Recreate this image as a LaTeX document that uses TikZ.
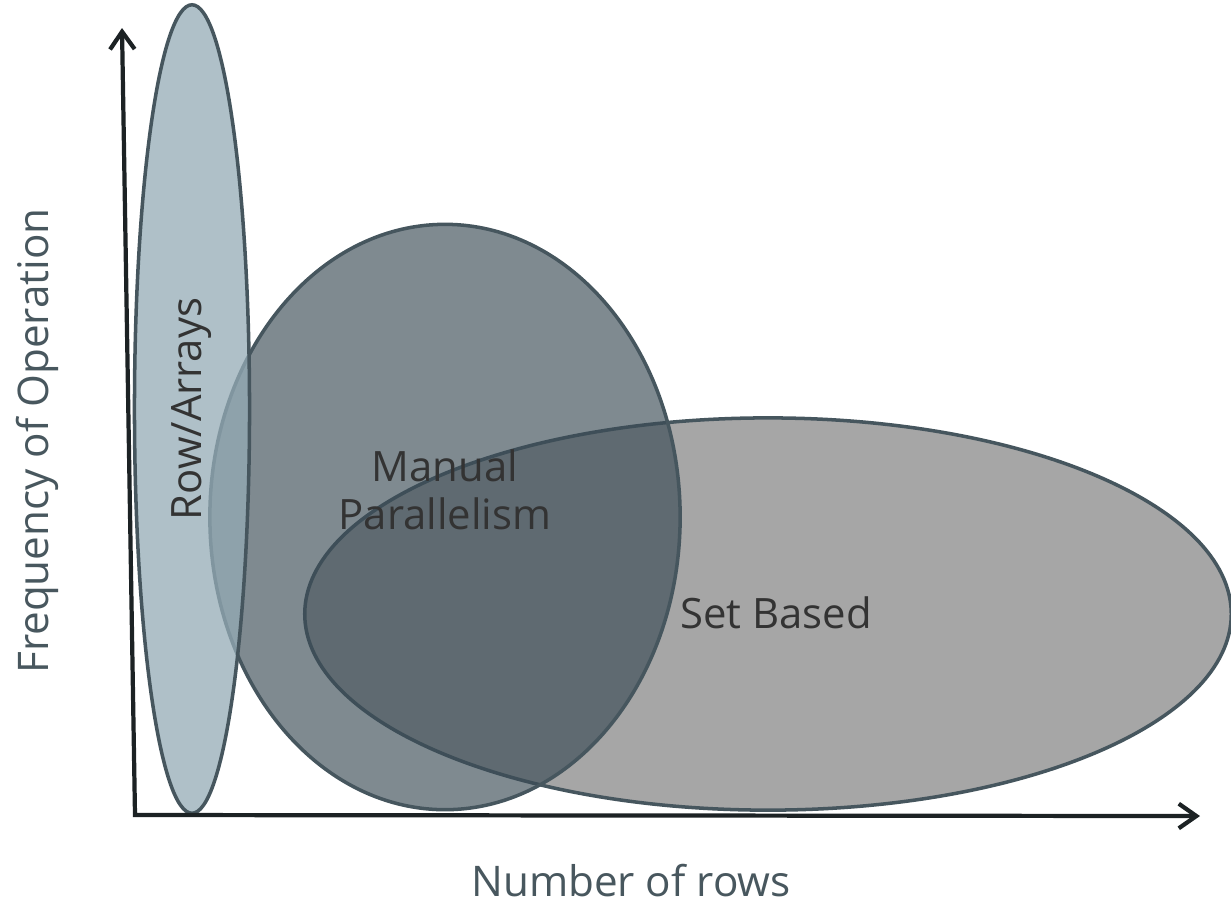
\documentclass[tikz,border=0pt]{standalone}
\usepackage{fontspec}
\setmainfont{Open Sans}
\usepackage{tikz}
\usetikzlibrary{arrows.meta}
\usetikzlibrary{shapes.geometric}
\definecolor{rim}{RGB}{70,86,94}
\definecolor{axisblack}{RGB}{28,34,36}
\definecolor{setgrey}{RGB}{166,166,166}
\definecolor{manualfill}{RGB}{58,75,85}
\definecolor{rowfill}{RGB}{148,171,181}
\definecolor{slatetext}{RGB}{72,87,94}
\definecolor{darktext}{RGB}{51,51,51}

\begin{document}
\begin{tikzpicture}[x=0.01cm, y=-0.01cm, >={Straight Barb[length=5pt,width=7pt]}]
	\tikzstyle{region} = [draw=rim, line width=1pt, ellipse, inner sep=0pt]
	\tikzstyle{axis} = [draw=axisblack, line width=1.2pt]
	\tikzstyle{inlabel} = [text=darktext, font=\fontsize{11.9}{13.6}\selectfont, align=center, inner sep=0pt]
	\tikzstyle{axlabel} = [text=slatetext, font=\fontsize{12}{14}\selectfont, inner sep=0pt]
	\useasboundingbox (0,0) rectangle (1231,902);
	% the three regions
	\begin{scope}
	  \node[region, fill=setgrey, minimum width=9.26cm, minimum height=3.92cm] (setbased) at (768,614) {};
	  \node[region, fill=manualfill, fill opacity=0.65, minimum width=4.70cm, minimum height=5.85cm] (manual) at (445,517) {};
	  \node[region, fill=rowfill, fill opacity=0.75, minimum width=1.15cm, minimum height=8.08cm] (rows) at (192,409) {};
	\end{scope}
	% axes
	\coordinate (origin) at (135,815);
	\coordinate (ytip) at (122,28);
	\coordinate (xtip) at (1200,816);
	\draw[axis, <->] (ytip) -- (origin) -- (xtip);
	% labels
	\node[inlabel, rotate=90] (rowtext) at (rows.center) {Row/Arrays};
	\node[inlabel] (manualtext) at (445,490) {Manual\\Parallelism};
	\node[inlabel] (settext) at (776,613) {Set Based};
	\node[axlabel, rotate=90] (ylabel) at (37,441) {Frequency of Operation};
	\node[axlabel] (xlabel) at (631,881) {Number of rows};
\end{tikzpicture}
\end{document}
